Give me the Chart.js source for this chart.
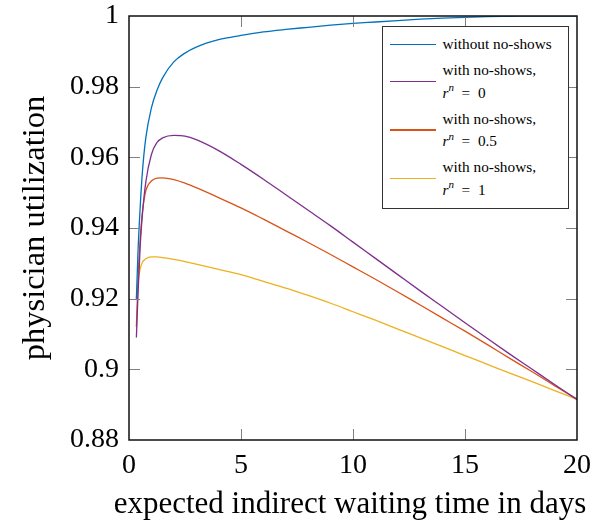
<!DOCTYPE html>
<html>
<head>
<meta charset="utf-8">
<script src="https://cdn.jsdelivr.net/npm/chart.js@4.4.0/dist/chart.umd.min.js"></script>
<style>
  html, body { margin: 0; padding: 0; background: #fff; }
  #wrap { position: relative; width: 594px; height: 524px; }
  #leyenda {
    position: absolute; left: 382px; top: 26px; width: 187px; height: 183px;
    box-sizing: border-box; border: 1.5px solid #333; background: #fff;
    font-family: 'Liberation Serif', serif; font-size: 15.3px; color: #000;
    padding-top: 6px; display: flex; flex-direction: column; gap: 3.5px;
  }
  .item { display: flex; align-items: center; }
  .muestra { width: 46px; height: 1.5px; margin-left: 6.5px; margin-right: 7px; }
  .texto { line-height: 22.5px; white-space: nowrap; }
  .mat { font-style: italic; }
  .sup { font-style: italic; font-size: 11px; position: relative; top: -0.55em; line-height: 0; }
</style>
</head>
<body>
<div id="wrap">
  <canvas id="grafico" width="594" height="524"></canvas>
  <div id="leyenda"></div>
</div>
<script>
// tiempo de espera indirecto esperado (días)
const dias = [0.33, 0.4, 0.5, 0.6, 0.75, 1, 1.25, 1.5, 2, 2.5, 3, 4, 5, 6, 7, 8, 9, 10, 11, 12, 13, 14, 15, 16, 17, 18, 19, 20];

// utilización del médico por escenario
const sinAusencias = [0.920, 0.933, 0.946, 0.956, 0.9655, 0.974, 0.979, 0.9825, 0.987, 0.9895, 0.9912, 0.9933, 0.9945, 0.9955, 0.9962, 0.9968, 0.9974, 0.9979, 0.9983, 0.9987, 0.9991, 0.9994, 0.9996, 0.9998, 0.9999, 1.0, 1.0, 1.0];
const conAusR0 = [0.909, 0.921, 0.935, 0.944, 0.953, 0.9608, 0.9642, 0.9655, 0.9662, 0.966, 0.965, 0.9619, 0.958, 0.9538, 0.9494, 0.945, 0.9406, 0.936, 0.9314, 0.9268, 0.9222, 0.9177, 0.9132, 0.9087, 0.9043, 0.9, 0.8957, 0.8915];
const conAusR05 = [0.912, 0.925, 0.937, 0.9445, 0.9505, 0.9533, 0.9541, 0.9542, 0.9537, 0.9527, 0.9514, 0.9486, 0.9457, 0.9425, 0.9392, 0.9359, 0.9325, 0.929, 0.9255, 0.9219, 0.9182, 0.9145, 0.9108, 0.907, 0.9031, 0.8993, 0.8954, 0.8915];
const conAusR1 = [0.920, 0.9245, 0.9285, 0.9303, 0.9313, 0.9318, 0.9318, 0.9316, 0.9311, 0.9305, 0.9298, 0.9283, 0.9268, 0.9249, 0.923, 0.9209, 0.9187, 0.9163, 0.9139, 0.9114, 0.9089, 0.9064, 0.9039, 0.9014, 0.8989, 0.8965, 0.894, 0.8915];

const series = [
    { label: 'without no-shows', r: null, data: sinAusencias, color: '#0072BD' },
    { label: 'with no-shows,', r: '0', data: conAusR0, color: '#7E2F8E' },
    { label: 'with no-shows,', r: '0.5', data: conAusR05, color: '#D95319' },
    { label: 'with no-shows,', r: '1', data: conAusR1, color: '#EDB120' }
];

const tituloX = 'expected indirect waiting time in days';
const fuente = "'Liberation Serif', 'Times New Roman', serif";

// marco completo, marcas hacia dentro (estilo pgfplots) y título del eje x sin recorte
const marcoPlugin = {
    id: 'marco',
    afterDatasetsDraw(chart) {
        const ctx = chart.ctx;
        const a = chart.chartArea;
        const sx = chart.scales.x;
        const sy = chart.scales.y;
        const largo = 11;
        ctx.save();
        ctx.strokeStyle = '#808080';
        ctx.lineWidth = 1;
        ctx.beginPath();
        sx.ticks.forEach(function (t) {
            const px = Math.round(sx.getPixelForValue(t.value)) + 0.5;
            if (px <= a.left + 2 || px >= a.right - 2) return;
            ctx.moveTo(px, a.bottom); ctx.lineTo(px, a.bottom - largo);
            ctx.moveTo(px, a.top); ctx.lineTo(px, a.top + largo);
        });
        sy.ticks.forEach(function (t) {
            const py = Math.round(sy.getPixelForValue(t.value)) + 0.5;
            if (py <= a.top + 2 || py >= a.bottom - 2) return;
            ctx.moveTo(a.left, py); ctx.lineTo(a.left + largo, py);
            ctx.moveTo(a.right, py); ctx.lineTo(a.right - largo, py);
        });
        ctx.stroke();
        ctx.strokeStyle = '#111';
        ctx.lineWidth = 1.5;
        ctx.strokeRect(a.left, a.top, a.right - a.left, a.bottom - a.top);

        ctx.fillStyle = '#000';
        ctx.font = '31px ' + fuente;
        ctx.textAlign = 'center';
        ctx.textBaseline = 'middle';
        ctx.fillText(tituloX, (a.left + a.right) / 2 - 3, sx.bottom - 19);
        ctx.restore();
    }
};

const ctx = document.getElementById('grafico').getContext('2d');
const myChart = new Chart(ctx, {
    type: 'line',
    data: {
        datasets: series.map(function (s) {
            return {
                label: s.label,
                data: dias.map(function (d, i) { return { x: d, y: s.data[i] }; }),
                borderColor: s.color,
                backgroundColor: s.color,
                borderWidth: 1.3,
                pointRadius: 0,
                cubicInterpolationMode: 'monotone',
                fill: false
            };
        })
    },
    options: {
        responsive: false,
        animation: false,
        layout: { padding: { top: 16, right: 17, left: 0, bottom: 0 } },
        plugins: {
            legend: { display: false },
            tooltip: { enabled: false }
        },
        scales: {
            x: {
                type: 'linear',
                min: 0,
                max: 20,
                ticks: { stepSize: 5, padding: 9, color: '#000', maxRotation: 0, font: { family: fuente, size: 28 } },
                grid: { display: false, drawTicks: false },
                border: { display: false },
                title: { display: false },
                afterFit: function (s) {
                    s.height = 84;
                    s.paddingLeft = 0;
                    s.paddingRight = 0;
                }
            },
            y: {
                min: 0.88,
                max: 1,
                ticks: {
                    stepSize: 0.02,
                    padding: 10,
                    color: '#000',
                    font: { family: fuente, size: 28 },
                    callback: function (v) { return String(Number(v.toFixed(2))); }
                },
                grid: { display: false, drawTicks: false },
                border: { display: false },
                title: {
                    display: true,
                    text: 'physician utilization',
                    color: '#000',
                    font: { family: fuente, size: 32.5 },
                    padding: { top: 16, bottom: 0 }
                },
                afterFit: function (s) {
                    s.width = 129;
                    s.paddingTop = 0;
                    s.paddingBottom = 0;
                }
            }
        }
    },
    plugins: [marcoPlugin]
});

// leyenda en HTML para poder escribir r^n
const leyenda = document.getElementById('leyenda');
series.forEach(function (s) {
    const item = document.createElement('div');
    item.className = 'item';
    const muestra = document.createElement('span');
    muestra.className = 'muestra';
    muestra.style.background = s.color;
    const texto = document.createElement('div');
    texto.className = 'texto';
    let html = s.label;
    if (s.r !== null) {
        html += '<br><span class="mat">r</span><span class="sup">n</span>&nbsp;&nbsp;=&nbsp;&nbsp;' + s.r;
    }
    texto.innerHTML = html;
    item.appendChild(muestra);
    item.appendChild(texto);
    leyenda.appendChild(item);
});
</script>
</body>
</html>
